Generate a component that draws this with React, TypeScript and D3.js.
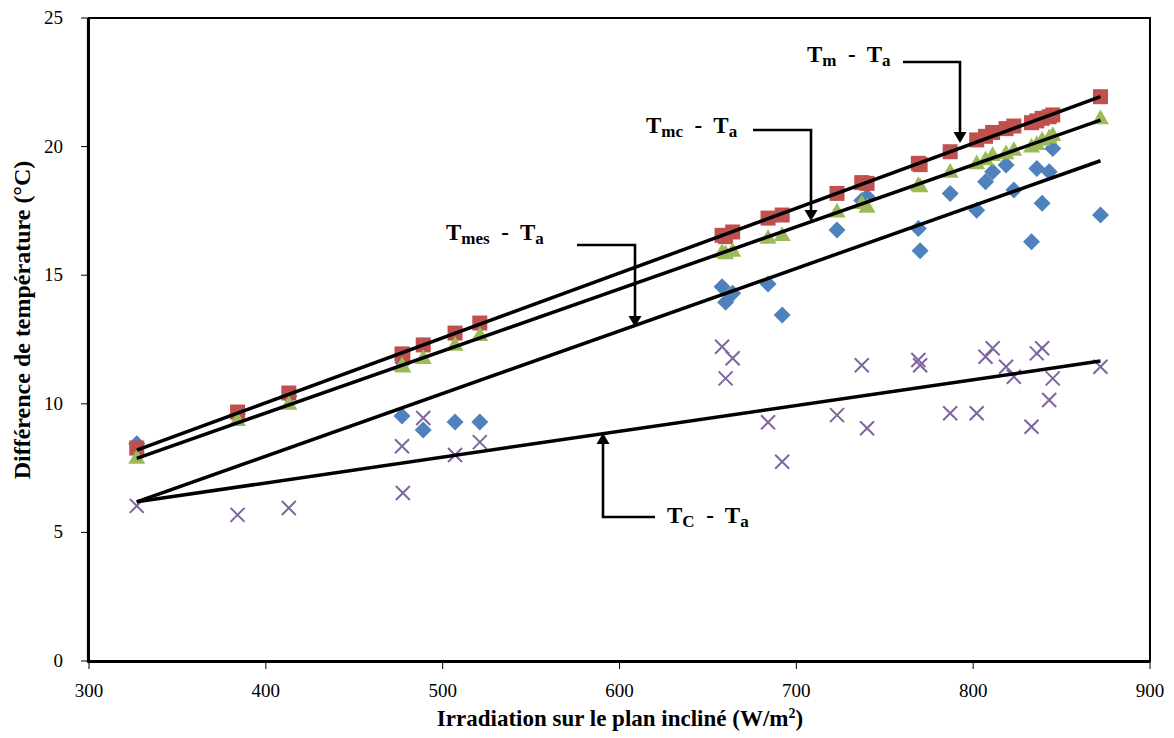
import React from "react";
import * as d3 from "d3";

const irradiation = [327, 384, 413, 477, 477.5, 489, 507, 521, 658, 660, 664, 684, 692, 723, 737, 740, 769, 770, 787, 802, 807, 811, 818.6, 823, 833, 836, 839, 843, 845, 872];
const tmTa = [8.28, 9.68, 10.42, 11.94, 11.9, 12.29, 12.75, 13.14, 16.55, 16.5, 16.68, 17.22, 17.34, 18.18, 18.6, 18.57, 19.35, 19.3, 19.8, 20.26, 20.4, 20.55, 20.7, 20.8, 20.93, 21.0, 21.1, 21.16, 21.23, 21.94];
const tmcTa = [7.9, 9.37, 10.0, 11.5, 11.45, 11.78, 12.29, 12.67, 15.9, 15.85, 15.95, 16.45, 16.56, 17.47, 17.8, 17.66, 18.5, 18.45, 19.02, 19.35, 19.5, 19.67, 19.74, 19.87, 20.0, 20.1, 20.26, 20.35, 20.45, 21.1];
const tmesTa = [8.45, 9.6, 10.3, 9.53, 11.6, 8.98, 9.29, 9.29, 14.55, 13.95, 14.3, 14.66, 13.45, 16.76, 17.9, 18.05, 16.82, 15.95, 18.18, 17.53, 18.63, 19.02, 19.28, 18.31, 16.3, 19.15, 17.8, 19.02, 19.93, 17.34];
const tcTa = [6.03, 5.68, 5.95, 8.35, 6.53, 9.45, 8.01, 8.51, 12.22, 10.99, 11.77, 9.28, 7.75, 9.56, 11.5, 9.05, 11.7, 11.5, 9.63, 9.63, 11.83, 12.16, 11.44, 11.05, 9.11, 11.96, 12.16, 10.15, 10.99, 11.44];

// trendline values at first and last irradiation (Tm, Tmc, Tmes, Tc)
const trendX = [327, 872];
const trendStart = [8.2, 7.88, 6.19, 6.19];
const trendEnd = [21.94, 21.03, 19.45, 11.66];

const xTicks = [300, 400, 500, 600, 700, 800, 900];
const yTicks = [0, 5, 10, 15, 20, 25];

const W = 1174;
const H = 738;
const SERIF = "'Liberation Serif', 'Times New Roman', serif";

function Arrow({ pts }: { pts: [number, number][] }) {
  const n = pts.length;
  const [x1, y1] = pts[n - 2];
  const [x2, y2] = pts[n - 1];
  const ang = Math.atan2(y2 - y1, x2 - x1);
  const L = 11;
  const hw = 6.5;
  const bx = x2 - L * Math.cos(ang);
  const by = y2 - L * Math.sin(ang);
  const px = -Math.sin(ang);
  const py = Math.cos(ang);
  const line = pts.slice(0, n - 1).concat([[bx, by]]);
  return (
    <g>
      <polyline points={line.map((p) => p.join(",")).join(" ")} fill="none" stroke="#000" strokeWidth={2.6} />
      <polygon
        points={`${x2},${y2} ${bx + px * hw},${by + py * hw} ${bx - px * hw},${by - py * hw}`}
        fill="#000"
      />
    </g>
  );
}

function Label({ x, y, sub }: { x: number; y: number; sub: string }) {
  return (
    <text x={x} y={y} fontFamily={SERIF} fontWeight="bold" fontSize={23} style={{ whiteSpace: "pre" }}>
      T<tspan fontSize={17} dy={4}>{sub}</tspan>
      <tspan fontSize={23} dy={-4}>{"  -  T"}</tspan>
      <tspan fontSize={17} dy={4}>a</tspan>
    </text>
  );
}

export default function App() {
  const x = d3.scaleLinear().domain([300, 900]).range([89, 1150]);
  const y = d3.scaleLinear().domain([0, 25]).range([661, 18]);

  const sq = 15;
  const triPath = d3.symbol().type(d3.symbolTriangle).size(125)()!;
  const dr = 8.5;
  const diaPath = `M0,${-dr}L${dr},0L0,${dr}L${-dr},0Z`;

  const trendIdx = [0, 1, 2, 3];

  return (
    <svg width={W} height={H} style={{ position: "absolute", left: 0, top: 0, background: "#fff" }}>
      <rect x={0} y={0} width={W} height={H} fill="#fff" />
      {/* plot border */}
      <rect x={x(300)} y={y(25)} width={x(900) - x(300)} height={y(0) - y(25)} fill="none" stroke="#000" strokeWidth={2} />
      <line x1={x(300) - 1.5} x2={x(300) - 1.5} y1={y(25)} y2={y(0) + 1.5} stroke="#000" strokeWidth={1.2} />
      <line x1={x(300) - 1.5} x2={x(900)} y1={y(0) + 1.5} y2={y(0) + 1.5} stroke="#000" strokeWidth={1.2} />

      {/* y ticks */}
      {yTicks.map((t) => (
        <g key={"y" + t}>
          <line x1={x(300) - 8} x2={x(300) - 1} y1={y(t)} y2={y(t)} stroke="#000" strokeWidth={1} />
          <text x={63} y={y(t) + 6} textAnchor="end" fontFamily={SERIF} fontSize={19}>
            {t}
          </text>
        </g>
      ))}
      {/* x ticks */}
      {xTicks.map((t) => (
        <g key={"x" + t}>
          <line x1={x(t)} x2={x(t)} y1={y(0) + 1} y2={y(0) + 8} stroke="#000" strokeWidth={1} />
          <text x={x(t)} y={697} textAnchor="middle" fontFamily={SERIF} fontSize={19}>
            {t}
          </text>
        </g>
      ))}

      {/* axis titles */}
      <text
        transform={`translate(30, 320) rotate(-90)`}
        textAnchor="middle"
        fontFamily={SERIF}
        fontWeight="bold"
        fontSize={24}
      >
        Différence de température (°C)
      </text>
      <text x={620} y={726} textAnchor="middle" fontFamily={SERIF} fontWeight="bold" fontSize={23}>
        Irradiation sur le plan incliné (W/m<tspan fontSize={14} dy={-8}>2</tspan>
        <tspan dy={8}>)</tspan>
      </text>

      {/* Tmes diamonds */}
      {irradiation.map((v, i) => (
        <path key={"d" + i} d={diaPath} transform={`translate(${x(v)},${y(tmesTa[i])})`} fill="#4F81BD" />
      ))}
      {/* Tm squares */}
      {irradiation.map((v, i) => (
        <rect key={"s" + i} x={x(v) - sq / 2} y={y(tmTa[i]) - sq / 2} width={sq} height={sq} fill="#C0504D" />
      ))}
      {/* Tmc triangles */}
      {irradiation.map((v, i) => (
        <path key={"t" + i} d={triPath} transform={`translate(${x(v)},${y(tmcTa[i]) + 1})`} fill="#9BBB59" />
      ))}
      {/* Tc crosses */}
      {irradiation.map((v, i) => {
        const cx = x(v);
        const cy = y(tcTa[i]);
        const r = 7;
        return (
          <path
            key={"c" + i}
            d={`M${cx - r},${cy - r}L${cx + r},${cy + r}M${cx - r},${cy + r}L${cx + r},${cy - r}`}
            stroke="#8064A2"
            strokeWidth={2}
            fill="none"
          />
        );
      })}

      {/* trendlines */}
      {trendIdx.map((k) => (
        <line
          key={"tr" + k}
          x1={x(trendX[0])}
          y1={y(trendStart[k])}
          x2={x(trendX[1])}
          y2={y(trendEnd[k])}
          stroke="#000"
          strokeWidth={3.5}
        />
      ))}

      {/* annotations */}
      <Label x={807} y={62} sub="m" />
      <Arrow pts={[[903, 62], [960, 62], [960, 143]]} />
      <Label x={646} y={133} sub="mc" />
      <Arrow pts={[[753, 130], [811, 130], [811, 221]]} />
      <Label x={446} y={240} sub="mes" />
      <Arrow pts={[[577, 245], [635, 245], [635, 327]]} />
      <Label x={667} y={523} sub="C" />
      <Arrow pts={[[655, 517], [603, 517], [603, 433]]} />
    </svg>
  );
}
